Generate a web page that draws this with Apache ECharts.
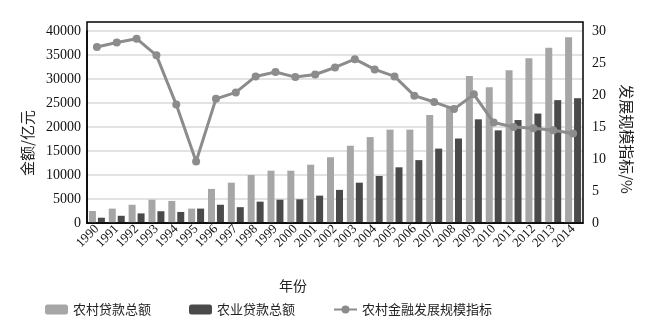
<!DOCTYPE html>
<html><head><meta charset="utf-8">
<script src="https://cdn.jsdelivr.net/npm/echarts@6/dist/echarts.min.js"></script>
<style>html,body{margin:0;padding:0;background:#fff}#c{width:647px;height:326px}</style>
</head><body><div id="c"></div>
<script>
const years = ['1990','1991','1992','1993','1994','1995','1996','1997','1998','1999','2000','2001','2002','2003','2004','2005','2006','2007','2008','2009','2010','2011','2012','2013','2014'];
const ruralLoans = [2500,3000,3800,4850,4600,3000,7100,8400,10000,10900,10900,12150,13700,16100,17900,19450,19450,22500,24400,30600,28300,31800,34300,36500,38700];
const agriLoans = [1100,1500,2000,2450,2300,3000,3800,3300,4450,4860,4930,5700,6900,8400,9800,11600,13100,15500,17600,21600,19300,21450,22800,25600,26000];
const scaleIndex = [27.5,28.2,28.8,26.2,18.5,9.6,19.4,20.4,22.9,23.6,22.8,23.2,24.3,25.6,24.0,22.9,19.9,18.9,17.8,20.1,15.7,15.0,14.8,14.5,14.0];
const leftTicks = {min:0, max:40000, interval:5000};
const rightTicks = {min:0, max:30, interval:5};

const serif = '"Liberation Serif","DejaVu Serif","Noto Sans CJK SC",serif';
const cjk = '"Noto Sans CJK SC",sans-serif';
const chart = echarts.init(document.getElementById('c'), null, {renderer:'canvas'});
chart.setOption({
  animation:false,
  backgroundColor:'#fff',
  grid:{left:87, right:64, top:31, bottom:103},
  legend:{
    left:40, top:298, itemWidth:23, itemHeight:10, itemGap:38,
    textStyle:{fontFamily:cjk, fontSize:13, color:'#222'},
    data:['农村贷款总额','农业贷款总额','农村金融发展规模指标']
  },
  graphic:[{type:'rect', shape:{x:87, y:22, width:496, height:201}, style:{fill:'none', stroke:'#000', lineWidth:1.5}, z:100, silent:true}],
  xAxis:{
    type:'category', data:years,
    name:'年份', nameLocation:'middle', nameGap:56,
    nameTextStyle:{fontFamily:cjk, fontSize:14, color:'#222', padding:[0,84,0,0]},
    axisLine:{lineStyle:{color:'#000', width:1.5}},
    axisTick:{inside:true, length:5, lineStyle:{color:'#000', width:1.2}},
    axisLabel:{rotate:45, interval:0, fontFamily:serif, fontSize:13, color:'#111', margin:4}
  },
  yAxis:[{
    type:'value', min:leftTicks.min, max:leftTicks.max, interval:leftTicks.interval,
    name:'金额/亿元', nameLocation:'middle', nameRotate:90, nameGap:52,
    nameTextStyle:{fontFamily:cjk, fontSize:15, color:'#222', padding:[0,32,0,0]},
    axisLine:{show:true, lineStyle:{color:'#000', width:1.5}},
    axisTick:{show:false},
    axisLabel:{fontFamily:serif, fontSize:14, color:'#111', margin:6, formatter:v=>String(v)},
    splitLine:{lineStyle:{color:'#d9d9d9', width:1.5}}
  },{
    type:'value', min:rightTicks.min, max:rightTicks.max, interval:rightTicks.interval,
    name:'发展规模指标/%', nameLocation:'middle', nameRotate:-90, nameGap:36,
    nameTextStyle:{fontFamily:cjk, fontSize:15, color:'#222', padding:[0,0,0,24]},
    axisLine:{show:false}, axisTick:{show:false},
    axisLabel:{fontFamily:serif, fontSize:14, color:'#111', margin:9, formatter:v=>String(v)},
    splitLine:{show:false}
  }],
  series:[
    {name:'农村贷款总额', type:'bar', data:ruralLoans, barWidth:7, barGap:'28%', itemStyle:{color:'#a6a6a6'}},
    {name:'农业贷款总额', type:'bar', data:agriLoans, barWidth:7, itemStyle:{color:'#4a4a4a'}},
    {name:'农村金融发展规模指标', type:'line', yAxisIndex:1, data:scaleIndex, symbol:'circle', symbolSize:8,
      lineStyle:{color:'#8c8c8c', width:3}, itemStyle:{color:'#8c8c8c'}, z:10}
  ]
});
</script></body></html>
